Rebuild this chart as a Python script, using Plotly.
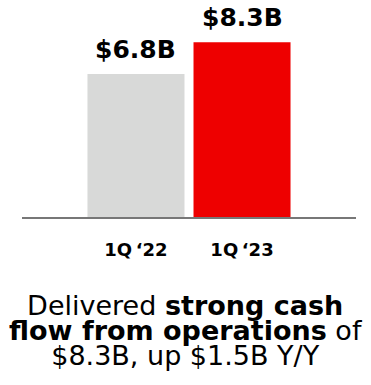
import plotly.graph_objects as go

categories = ["1Q ‘22", "1Q ‘23"]
values = [6.8, 8.3]
value_labels = ["$6.8B", "$8.3B"]
bar_colors = ["#D8D9D8", "#EE0000"]
caption_lines = [
    "Delivered <b>strong cash</b>",
    "<b>flow from operations</b> of",
    "$8.3B, up $1.5B Y/Y",
]

FONT = "DejaVu Sans"

fig = go.Figure()
fig.add_trace(go.Bar(
    x=[0, 1], y=values, marker=dict(color=bar_colors, line=dict(width=0)),
    width=0.915, hoverinfo="skip",
))

for i, (v, lab) in enumerate(zip(values, value_labels)):
    fig.add_annotation(x=i, y=v, xref="x", yref="y", text=f"<b>{lab}</b>",
                       showarrow=False, yanchor="bottom", yshift=8,
                       font=dict(family=FONT, size=25, color="#000"))

plot_h = 217
caption_top = 288
caption = "<br>".join(f'<span style="font-size:27px">{l}</span>' for l in caption_lines)
fig.add_annotation(x=0.49, xref="paper", yref="paper",
                   y=-(caption_top - plot_h) / plot_h, yanchor="top",
                   text=caption, showarrow=False, align="center",
                   font=dict(family=FONT, size=19.2, color="#000"))

fig.update_layout(
    width=371, height=385,
    margin=dict(l=22, r=15, t=0, b=168),
    paper_bgcolor="white", plot_bgcolor="white",
    showlegend=False,
    bargap=0.085,
    xaxis=dict(range=[-1.075, 2.075], tickmode="array", tickvals=[0, 1],
               ticktext=[f"<b>{c.replace(' ', chr(0x2009))}</b>" for c in categories],
               showline=True, linecolor="#777777", linewidth=2,
               showgrid=False, zeroline=False, ticks="",
               ticklabelstandoff=15,
               tickfont=dict(family=FONT, size=18, color="#000"), fixedrange=True),
    yaxis=dict(range=[0, 10.31], visible=False, fixedrange=True),
)

fig.write_html("out.html", config={"displayModeBar": False})
